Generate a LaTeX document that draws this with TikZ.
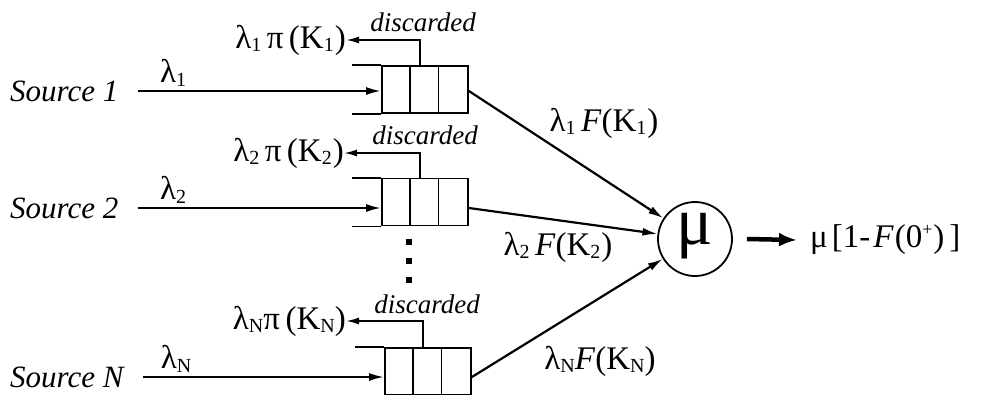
\documentclass[tikz,border=0pt]{standalone}
\usepackage{fontspec}
\setmainfont{Liberation Serif}
\usetikzlibrary{arrows.meta,calc}
% small lowered index used in the rate labels
\newcommand\idx[1]{\raisebox{-0.25ex}{\fontsize{20}{20}\selectfont #1}}
\begin{document}
\begin{tikzpicture}[x=1pt,y=-1pt,
  every node/.style={inner sep=0pt},
  lab/.style={font=\fontsize{33}{35}\selectfont},
  srclab/.style={font=\fontsize{31}{33}\selectfont\itshape, anchor=west},
  disc/.style={font=\fontsize{27}{29}\selectfont\itshape},
  queue/.style={draw, line width=1.8pt, minimum width=86pt, minimum height=47pt},
  flow/.style={line width=2.2pt, -{Latex[length=15pt,width=8pt]}},
  thinflow/.style={line width=1.8pt, -{Latex[length=13pt,width=7pt]}},
  server/.style={draw, circle, line width=1.8pt, minimum size=74pt}]
\useasboundingbox (0,0) rectangle (981,394);

% sources
\node[srclab] (s1) at (10,91)  {Source 1};
\node[srclab] (s2) at (10,208) {Source 2};
\node[srclab] (sN) at (10,377) {Source N};

% queues: three cells with open left end
\node[queue] (q1) at (425,89.5) {};
\node[queue] (q2) at (425,202)  {};
\node[queue] (qN) at (428,371.5) {};
\foreach \q in {q1,q2,qN}{
  \draw[line width=1.8pt] ($(\q.north west)+(28.7,0)$) -- ($(\q.south west)+(28.7,0)$);
  \draw[line width=1.8pt] ($(\q.north west)+(57.3,0)$) -- ($(\q.south west)+(57.3,0)$);
  \draw[line width=1.8pt] ($(\q.north west)+(-29,0)$) -- (\q.north west);
  \draw[line width=1.8pt] ($(\q.south west)+(-29,0)$) -- (\q.south west);
}

% arrival streams
\draw[flow] ($(s1.east)+(19,0)$) -- (s1 -| q1.west);
\draw[flow] ($(s2.east)+(19,0)$) -- (s2 -| q2.west);
\draw[flow] ($(sN.east)+(19,0)$) -- (sN -| qN.west);
\node[lab] (l1) at (173,73)  {λ\idx{1}};
\node[lab] (l2) at (173,190) {λ\idx{2}};
\node[lab] (lN) at (176,359) {λ\idx{N}};

% discarded customers
\node[lab, anchor=east] (p1) at (346,40)  {λ\idx{1}\,π\,(K\idx{1}\kern1pt)};
\node[lab, anchor=east] (p2) at (344,153) {λ\idx{2}\,π\,(K\idx{2}\kern1pt)};
\node[lab, anchor=east] (pN) at (346,321) {λ\idx{N}π\,(K\idx{N})};
\draw[thinflow] ($(q1.north)+(-5,0)$) |- (p1.east);
\draw[thinflow] ($(q2.north)+(-5,0)$) |- (p2.east);
\draw[thinflow] ($(qN.north)+(-5,0)$) |- (pN.east);
\node[disc] (d1) at (423,22)  {discarded};
\node[disc] (d2) at (425,135) {discarded};
\node[disc] (dN) at (427,304) {discarded};

% continuation dots between queue 2 and queue N
\foreach \yy in {242,261,280}
  \fill (406,\yy-3) rectangle (412,\yy+3);

% server
\node[server] (mu) at (695,239) {};
\node[font=\fontsize{68}{68}\selectfont] (mul) at (695,236) {μ};
\draw[flow] (s1 -| q1.east) -- (mu);
\draw[flow] (s2 -| q2.east) -- (mu);
\draw[flow] (sN -| qN.east) -- (mu);
\node[lab] (f1) at (604,123) {λ\idx{1}\,\textit{F}(K\idx{1}\kern1pt)};
\node[lab] (f2) at (558,247) {λ\idx{2}\,\textit{F}(K\idx{2}\kern1pt)};
\node[lab] (fN) at (600,361) {λ\idx{N}\textit{F}(K\idx{N})};

% departures
\node[lab, anchor=west] (out) at (810,240) {μ\kern4pt[1-\kern3pt\textit{F}\kern1pt(0\raisebox{0.85ex}{\fontsize{18}{18}\selectfont +}\kern1pt)\kern5pt]};
\draw[line width=4.5pt, -{Latex[length=18pt,width=14pt]}] ($(mu.east)+(14,0)$) -- ($(out.west)+(-13,0)$);
\end{tikzpicture}
\end{document}
